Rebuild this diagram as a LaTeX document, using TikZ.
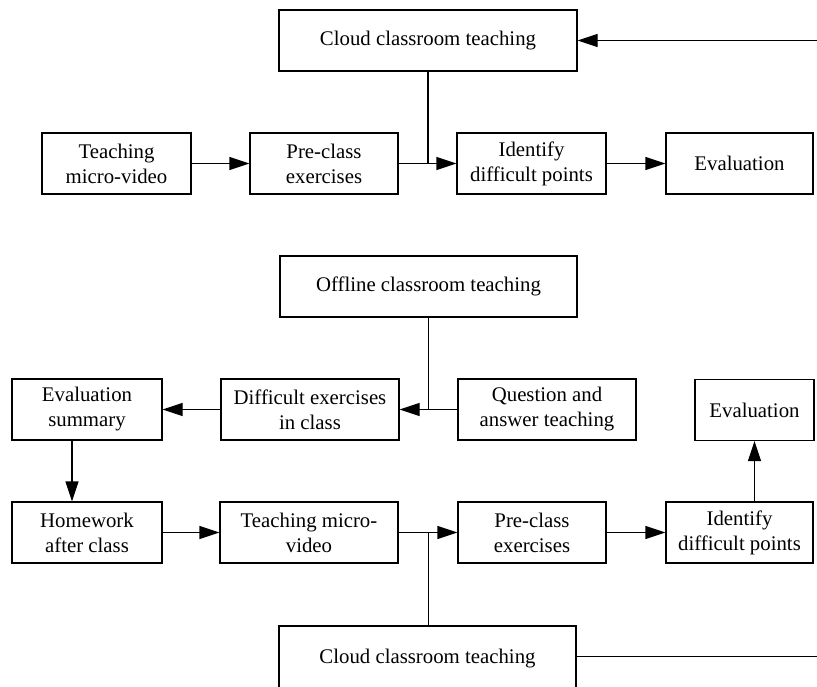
\documentclass[tikz,border=0pt]{standalone}
\usepackage{fontspec}
\setmainfont{Liberation Serif}
\usetikzlibrary{arrows.meta}
\begin{document}
\begin{tikzpicture}[x=1pt, y=-1pt, >={Triangle[length=20pt,width=13pt]}, line width=1.1pt,
    blok/.style={draw, line width=1.1pt, minimum height=61pt, inner sep=0pt, align=center,
        font=\fontsize{20.8pt}{25pt}\selectfont}]
    % 0. Khung trang
    \clip (0,0) rectangle (817,686);

    % 1. Phần trên: lớp học đám mây
    \node[blok, minimum width=298pt] (cloudA) at (428,40.5) {Cloud classroom teaching};
    \node[blok, minimum width=149pt] (vidA) at (116.5,163.5) {Teaching\\micro-video};
    \node[blok, minimum width=148pt] (preA) at (324,163.5) {Pre-class\\exercises};
    \node[blok, minimum width=149pt] (idA) at (531.5,163.5) {Identify\\difficult points};
    \node[blok, minimum width=147pt] (evalA) at (739.5,163.5) {Evaluation};
    \coordinate (inA) at (817,40.5);

    \draw[->] (inA) -- (cloudA.east);
    \draw (cloudA.south) -- (cloudA.south |- idA.west);
    \draw[->] (vidA) -- (preA);
    \draw[->] (preA) -- (idA);
    \draw[->] (idA) -- (evalA);

    % 2. Phần dưới: lớp học trực tiếp
    \node[blok, minimum width=297pt] (offline) at (428.5,286.5) {Offline classroom teaching};
    \node[blok, minimum width=150pt] (sumB) at (87,409.5) {Evaluation\\summary};
    \node[blok, minimum width=178pt] (diffB) at (310,409.5) {Difficult exercises\\in class};
    \node[blok, minimum width=178pt] (qaB) at (547,409.5) {Question and\\answer teaching};
    \node[blok, minimum width=119pt] (evalC) at (754.5,410) {Evaluation};

    \node[blok, minimum width=150pt] (homeC) at (87,532.5) {Homework\\after class};
    \node[blok, minimum width=178pt] (vidC) at (309,532.5) {Teaching micro-\\video};
    \node[blok, minimum width=148pt] (preC) at (532,532.5) {Pre-class\\exercises};
    \node[blok, minimum width=147pt] (idC) at (739.5,532.5) {Identify\\difficult points};
    \node[blok, minimum width=297pt, minimum height=66pt] (cloudC) at (427.5,659) {Cloud classroom teaching};
    \coordinate (outC) at (817,656.5);

    \draw (offline.south) -- (offline.south |- diffB.east);
    \draw[->] (qaB) -- (diffB);
    \draw[->] (diffB) -- (sumB);
    \draw[->] ([xshift=-15pt]sumB.south) -- ([xshift=-15pt]homeC.north);
    \draw[->] (homeC) -- (vidC);
    \draw[->] (vidC) -- (preC);
    \draw (cloudC.north -| offline.south) -- (offline.south |- preC.west);
    \draw[->] (preC) -- (idC);
    \draw[->] (idC.north -| evalC.south) -- (evalC.south);
    \draw (cloudC.east |- outC) -- (outC);
\end{tikzpicture}
\end{document}
